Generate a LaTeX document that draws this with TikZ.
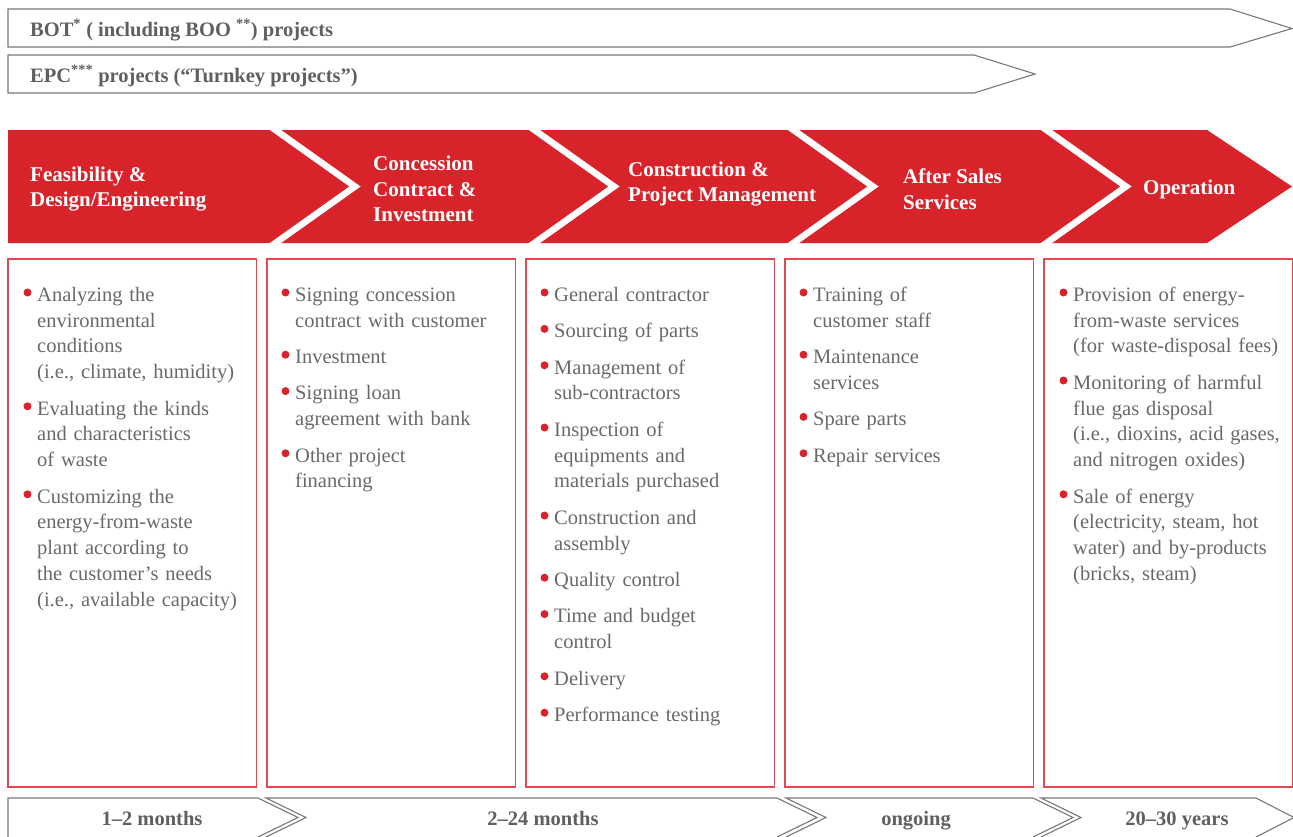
\documentclass[tikz,border=0pt]{standalone}
\usepackage{fontspec}
\setmainfont{Liberation Serif}
\usetikzlibrary{positioning}

\definecolor{bandred}{RGB}{217,35,42}
\definecolor{boxred}{RGB}{226,72,80}
\definecolor{bodygray}{RGB}{105,105,105}
\definecolor{labelgray}{RGB}{95,95,95}
\definecolor{framegray}{RGB}{120,120,120}

\tikzset{
  arrowbox/.style={draw=framegray, line width=1.1pt},
  kind/.style={text=labelgray, font=\bfseries\fontsize{20.5}{22}\selectfont, anchor=base west, inner sep=0pt},
  stage/.style={text=white, font=\bfseries\fontsize{21}{25.5}\selectfont, align=left, anchor=west, inner sep=0pt},
  column/.style={draw=boxred, line width=1.2pt},
  task/.style={text=bodygray, text width=225pt, align=left, inner sep=0pt,
    font=\fontsize{20.5}{25.8}\selectfont,
    execute at begin node=\strut, execute at end node=\strut},
  duration/.style={text=labelgray, font=\bfseries\fontsize{20.5}{22}\selectfont, anchor=base, inner sep=0pt},
  node distance=10.2pt,
}

\begin{document}
\begin{tikzpicture}[x=1pt,y=-1pt]
\useasboundingbox (0,0) rectangle (1293,836);
\clip (0,0) rectangle (1293,836);

% project types
\draw[arrowbox] (8,9) -- (1230,9) -- (1292,28.5) -- (1230,47) -- (8,47) -- cycle;
\draw[arrowbox] (8,55) -- (974,55) -- (1035,74) -- (974,93) -- (8,93) -- cycle;
\node[kind] (bot) at (30,36.5) {BOT\textsuperscript{*} ( including BOO \textsuperscript{**}) projects};
\node[kind] (epc) at (30,82.5) {EPC\textsuperscript{***} projects (“Turnkey projects”)};

% red band with white chevrons
\fill[bandred] (8,130) -- (1207,130) -- (1292,186.5) -- (1207,243) -- (8,243) -- cycle;
\foreach \x in {267,526,785,1038}
  \draw[white, line width=6.5pt] (\x,124) -- (\x+88,186.5) -- (\x,249);

\node[stage] (feas)  at (30,189)  {Feasibility \&\\Design/Engineering};
\node[stage] (conc)  at (373,189) {Concession\\Contract \&\\Investment};
\node[stage] (cons)  at (628,184) {Construction \&\\Project Management};
\node[stage] (after) at (903,189) {After Sales\\Services};
\node[stage] (oper)  at (1143,189) {Operation};

% columns
\foreach \x in {8,267,526,785,1044}
  \draw[column] (\x,259) rectangle ++(248.5,528);

\node[task, anchor=north west] (f1) at (37,283)
  {Analyzing the\\environmental\\conditions\\(i.e., climate, humidity)};
\node[task, below=of f1] (f2) {Evaluating the kinds\\and characteristics\\of waste};
\node[task, below=of f2] (f3)
  {Customizing the\\energy-from-waste\\plant according to\\the customer’s needs\\(i.e., available capacity)};

\node[task, anchor=north west] (c1) at (295,283) {Signing concession\\contract with customer};
\node[task, below=of c1] (c2) {Investment};
\node[task, below=of c2] (c3) {Signing loan\\agreement with bank};
\node[task, below=of c3] (c4) {Other project\\financing};

\node[task, anchor=north west] (p1) at (554,283) {General contractor};
\node[task, below=of p1] (p2) {Sourcing of parts};
\node[task, below=of p2] (p3) {Management of\\sub-contractors};
\node[task, below=of p3] (p4) {Inspection of\\equipments and\\materials purchased};
\node[task, below=of p4] (p5) {Construction and\\assembly};
\node[task, below=of p5] (p6) {Quality control};
\node[task, below=of p6] (p7) {Time and budget\\control};
\node[task, below=of p7] (p8) {Delivery};
\node[task, below=of p8] (p9) {Performance testing};

\node[task, anchor=north west] (a1) at (813,283) {Training of\\customer staff};
\node[task, below=of a1] (a2) {Maintenance\\services};
\node[task, below=of a2] (a3) {Spare parts};
\node[task, below=of a3] (a4) {Repair services};

\node[task, anchor=north west] (o1) at (1073,283)
  {Provision of energy-\\from-waste services\\(for waste-disposal fees)};
\node[task, below=of o1] (o2)
  {Monitoring of harmful\\flue gas disposal\\(i.e., dioxins, acid gases,\\and nitrogen oxides)};
\node[task, below=of o2] (o3)
  {Sale of energy\\(electricity, steam, hot\\water) and by-products\\(bricks, steam)};

% bullets
\foreach \n in {f1,f2,f3,c1,c2,c3,c4,p1,p2,p3,p4,p5,p6,p7,p8,p9,a1,a2,a3,a4,o1,o2,o3}
  \fill[bandred] ([shift={(-9.5,9.5)}]\n.north west) circle (4);

% durations
\draw[arrowbox] (8,837) -- (8,798) -- (258,798) -- (298,817.5) -- (258,837);
\draw[arrowbox] (266,837) -- (306,817.5) -- (266,798) -- (777,798) -- (817,817.5) -- (777,837);
\draw[arrowbox] (786,837) -- (826,817.5) -- (786,798) -- (1033,798) -- (1073,817.5) -- (1033,837);
\draw[arrowbox] (1041,837) -- (1081,817.5) -- (1041,798) -- (1256,798) -- (1294,817.5) -- (1256,837);

\node[duration] (m1) at (152,825)  {1–2 months};
\node[duration] (m2) at (543,825)  {2–24 months};
\node[duration] (m3) at (916,825)  {ongoing};
\node[duration] (m4) at (1177,825) {20–30 years};
\end{tikzpicture}
\end{document}
